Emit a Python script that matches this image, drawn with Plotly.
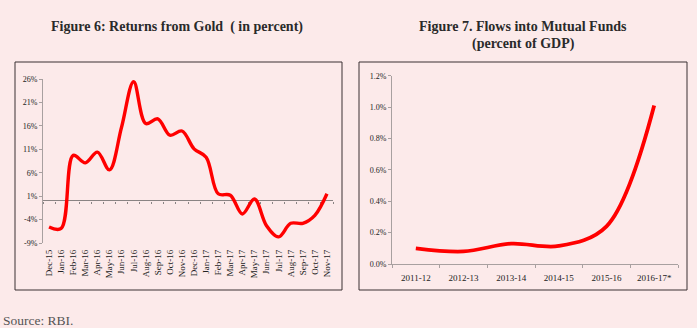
import plotly.graph_objects as go

# Figure 6 data: monthly returns from gold (percent)
months = ["Dec-15", "Jan-16", "Feb-16", "Mar-16", "Apr-16", "May-16", "Jun-16", "Jul-16",
          "Aug-16", "Sep-16", "Oct-16", "Nov-16", "Dec-16", "Jan-17", "Feb-17", "Mar-17",
          "Apr-17", "May-17", "Jun-17", "Jul-17", "Aug-17", "Sep-17", "Oct-17", "Nov-17"]
gold_returns = [-5.6, -5.9, 9.7, 8.1, 10.4, 6.6, 15.7, 25.4,
                16.5, 17.5, 14.0, 14.9, 11.1, 9.3, 1.5, 1.2,
                -2.8, 0.4, -5.3, -7.7, -4.8, -4.8, -3.1, 1.5]
gold_ticks = [-9, -4, 1, 6, 11, 16, 21, 26]

# Figure 7 data: flows into mutual funds (percent of GDP)
years = ["2011-12", "2012-13", "2013-14", "2014-15", "2015-16", "2016-17*"]
mf_flows = [0.10, 0.08, 0.13, 0.115, 0.24, 1.01]
mf_ticks = [0.0, 0.2, 0.4, 0.6, 0.8, 1.0, 1.2]

BG = "#FCEAEA"
RED = "#FF0000"
AXIS = "#a8a0a0"
SERIF = "Liberation Serif"
W, H = 697, 328

def px_x(v):
    return v / W

def px_y(v):
    return 1 - v / H

# left plot area (pixels)
L_X0, L_X1, L_Y0, L_Y1 = 43, 333, 243, 79
Y_MIN, Y_MAX = -9, 26
zero_pos = px_y(L_Y0) + (0 - Y_MIN) / (Y_MAX - Y_MIN) * (px_y(L_Y1) - px_y(L_Y0))

fig = go.Figure()

# invisible anchor so the zero-level category axis gets rendered
fig.add_trace(go.Scatter(
    x=[-0.5], y=[0], mode="markers", marker=dict(opacity=0),
    xaxis="x3", yaxis="y", hoverinfo="skip", showlegend=False))

fig.add_trace(go.Scatter(
    x=months, y=gold_returns, mode="lines",
    line=dict(color=RED, width=3.4, shape="spline", smoothing=1.0),
    xaxis="x", yaxis="y", hoverinfo="skip", showlegend=False))

fig.add_trace(go.Scatter(
    x=years, y=mf_flows, mode="lines",
    line=dict(color=RED, width=3.8, shape="spline", smoothing=1.0),
    xaxis="x2", yaxis="y2", hoverinfo="skip", showlegend=False))

tick_font = dict(family=SERIF, size=8, color="#222222")
cat_font = dict(family=SERIF, size=9, color="#222222")

fig.update_layout(
    width=W, height=H,
    margin=dict(l=0, r=0, t=0, b=0),
    paper_bgcolor=BG, plot_bgcolor=BG,
    xaxis=dict(
        domain=[px_x(L_X0), px_x(L_X1)], anchor="y", type="category",
        range=[-0.5, len(months) - 0.5],
        showgrid=False, showline=False, zeroline=False,
        tickangle=-90, tickfont=cat_font, ticks="", ticklabelstandoff=4,
        automargin=False),
    yaxis=dict(
        domain=[px_y(L_Y0), px_y(L_Y1)], anchor="x", range=[Y_MIN, Y_MAX],
        tickvals=gold_ticks, ticktext=[f"{v}%" for v in gold_ticks],
        showgrid=False, showline=True, linecolor=AXIS, linewidth=1,
        zeroline=True, zerolinecolor="#8a8484", zerolinewidth=1,
        ticks="outside", ticklen=3, tickcolor=AXIS,
        tickfont=tick_font, automargin=False),
    # boundary tick marks along the zero level
    xaxis3=dict(
        domain=[px_x(L_X0), px_x(L_X1)], anchor="free", position=zero_pos,
        overlaying="x", type="linear", range=[-0.5, len(months) - 0.5],
        tickmode="array", tickvals=[i - 0.5 for i in range(len(months) + 1)],
        showticklabels=False, showgrid=False, zeroline=False,
        showline=False, layer="below traces",
        ticks="outside", ticklen=2, tickcolor="#8a8484"),
    xaxis2=dict(
        domain=[px_x(392), px_x(678)], anchor="y2", type="category",
        range=[-0.5, len(years) - 0.5],
        showgrid=False, showline=True, linecolor=AXIS, linewidth=1,
        zeroline=False, tickangle=0, tickfont=cat_font,
        ticks="outside", tickson="boundaries", ticklen=3, tickcolor=AXIS,
        ticklabelstandoff=5, automargin=False),
    yaxis2=dict(
        domain=[px_y(264), px_y(75.7)], anchor="x2", range=[0, 1.2],
        tickvals=mf_ticks, ticktext=[f"{v:.1f}%" for v in mf_ticks],
        showgrid=False, showline=True, linecolor=AXIS, linewidth=1,
        zeroline=False, ticks="outside", ticklen=3, tickcolor=AXIS,
        tickfont=tick_font, automargin=False),
    font=dict(family=SERIF),
)

# Chart frames
for x0, x1 in [(15, 342), (359, 687)]:
    fig.add_shape(type="rect", xref="paper", yref="paper",
                  x0=px_x(x0), x1=px_x(x1), y0=px_y(290), y1=px_y(62),
                  line=dict(color="#3a3032", width=1), fillcolor="rgba(0,0,0,0)")

title_font = dict(family=SERIF, size=14, color="#2a2a2a")
fig.add_annotation(text="<b>Figure 6: Returns from Gold  ( in percent)</b>",
                   xref="paper", yref="paper", x=px_x(177), y=px_y(27),
                   xanchor="center", yanchor="middle", showarrow=False, font=title_font)
fig.add_annotation(text="<b>Figure 7. Flows into Mutual Funds</b>",
                   xref="paper", yref="paper", x=px_x(523), y=px_y(27),
                   xanchor="center", yanchor="middle", showarrow=False, font=title_font)
fig.add_annotation(text="<b>(percent of GDP)</b>",
                   xref="paper", yref="paper", x=px_x(523), y=px_y(44),
                   xanchor="center", yanchor="middle", showarrow=False, font=title_font)
fig.add_annotation(text="Source: RBI.",
                   xref="paper", yref="paper", x=px_x(1), y=px_y(320),
                   xanchor="left", yanchor="middle", showarrow=False,
                   font=dict(family=SERIF, size=13.5, color="#555555"))

fig.write_html("out.html")
